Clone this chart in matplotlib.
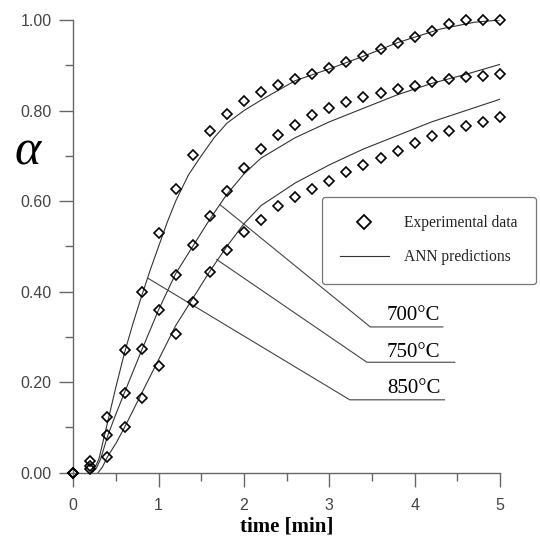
import numpy as np
import matplotlib
matplotlib.use("Agg")
import matplotlib.pyplot as plt
from matplotlib.ticker import MultipleLocator, FormatStrFormatter

# measured points, every 0.2 min
t_exp = [0.0, 0.2, 0.4, 0.6, 0.8, 1.0, 1.2, 1.4, 1.6, 1.8, 2.0, 2.2, 2.4,
         2.6, 2.8, 3.0, 3.2, 3.4, 3.6, 3.8, 4.0, 4.2, 4.4, 4.6, 4.8, 5.0]
exp_850 = [0.0, 0.025, 0.123, 0.27, 0.40, 0.53, 0.626, 0.701, 0.754, 0.792,
           0.822, 0.840, 0.856, 0.870, 0.881, 0.894, 0.908, 0.921, 0.936,
           0.950, 0.963, 0.975, 0.991, 1.0, 1.0, 1.0]
exp_700 = [0.0, 0.015, 0.083, 0.177, 0.273, 0.359, 0.436, 0.504, 0.566, 0.622,
           0.672, 0.714, 0.746, 0.769, 0.790, 0.806, 0.818, 0.829, 0.838,
           0.848, 0.854, 0.862, 0.870, 0.873, 0.877, 0.881]
exp_750 = [0.0, 0.008, 0.035, 0.10, 0.165, 0.236, 0.306, 0.377, 0.443, 0.493,
           0.532, 0.559, 0.59, 0.608, 0.627, 0.644, 0.664, 0.680, 0.695,
           0.711, 0.728, 0.743, 0.755, 0.766, 0.775, 0.785]

# ANN curves
t_ann_850 = [0.2, 0.25, 0.3, 0.4, 0.5, 0.6, 0.7, 0.8, 0.9, 1.0, 1.1, 1.2, 1.35,
             1.5, 1.65, 1.8, 2.0, 2.2, 2.6, 3.0, 3.4, 3.8, 4.3, 4.7, 5.0]
ann_850 = [0.0, 0.01, 0.03, 0.11, 0.19, 0.265, 0.33, 0.39, 0.447, 0.50, 0.553,
           0.60, 0.658, 0.70, 0.74, 0.772, 0.80, 0.823, 0.866, 0.892, 0.92,
           0.95, 0.98, 0.995, 1.0]
t_ann_700 = [0.22, 0.27, 0.32, 0.4, 0.5, 0.6, 0.8, 1.0, 1.2, 1.4, 1.6, 1.8,
             2.0, 2.2, 2.6, 3.0, 3.4, 3.8, 4.2, 4.6, 5.0]
ann_700 = [0.0, 0.01, 0.03, 0.08, 0.13, 0.177, 0.27, 0.36, 0.44, 0.50, 0.56,
           0.615, 0.66, 0.695, 0.74, 0.775, 0.805, 0.835, 0.86, 0.88, 0.902]
t_ann_750 = [0.29, 0.34, 0.4, 0.5, 0.6, 0.8, 1.0, 1.2, 1.4, 1.6, 1.8, 2.0,
             2.2, 2.4, 2.6, 3.0, 3.4, 3.8, 4.2, 4.6, 5.0]
ann_750 = [0.0, 0.012, 0.035, 0.065, 0.10, 0.175, 0.25, 0.325, 0.385, 0.445,
           0.50, 0.55, 0.59, 0.615, 0.64, 0.68, 0.715, 0.745, 0.775, 0.80, 0.825]

# leader lines: start on curve, elbow, end of underline
labels = ["700°C", "750°C", "850°C"]
lead_x = [[1.72, 3.48, 4.33], [1.68, 3.44, 4.47], [0.88, 3.24, 4.35]]
lead_y = [[0.592, 0.322, 0.322], [0.471, 0.244, 0.244], [0.429, 0.161, 0.161]]
lab_y = [0.337, 0.255, 0.176]

fig = plt.figure(figsize=(5.4, 5.39), dpi=100)
ax = fig.add_axes([73.3 / 540, 66.3 / 539, 426.7 / 540, 452.7 / 539])

line_col = "#333333"
ax.plot(t_ann_850, ann_850, color=line_col, lw=0.8)
ax.plot(t_ann_700, ann_700, color=line_col, lw=0.8)
ax.plot(t_ann_750, ann_750, color=line_col, lw=0.8)

for ys in (exp_850, exp_700, exp_750):
    ax.plot(t_exp, ys, ls="none", marker="D", ms=5.3, mfc="none", mec="black",
            mew=1.2, clip_on=False, zorder=3)

for lx, ly, txt, ty in zip(lead_x, lead_y, labels, lab_y):
    ax.plot(lx, ly, color="#444444", lw=0.8)
    ax.text(4.30, ty, txt, ha="right", va="baseline", fontsize=15,
            family="Liberation Serif", color="black")

# legend
h_exp, = ax.plot([], [], ls="none", marker="D", ms=7.5, mfc="none",
                 mec="black", mew=1.3)
h_ann, = ax.plot([], [], color=line_col, lw=0.8)
leg = ax.legend([h_exp, h_ann], ["Experimental data", "ANN predictions"],
                loc="upper left", bbox_to_anchor=(321.7 / 540, 1 - 196.7 / 539),
                bbox_transform=fig.transFigure, frameon=True, fancybox=True,
                borderpad=1.2, labelspacing=1.15, handlelength=3.1,
                handletextpad=1.0, borderaxespad=0,
                prop={"family": "Liberation Serif", "size": 11.2})
leg.get_frame().set_edgecolor("#555555")
leg.get_frame().set_linewidth(0.9)
for t in leg.get_texts():
    t.set_color("#222222")

ax.set_xlim(0, 5)
ax.set_ylim(0, 1)
ax.xaxis.set_major_locator(MultipleLocator(1))
ax.xaxis.set_minor_locator(MultipleLocator(0.5))
ax.yaxis.set_major_locator(MultipleLocator(0.2))
ax.yaxis.set_minor_locator(MultipleLocator(0.1))
ax.yaxis.set_major_formatter(FormatStrFormatter("%.2f"))

for s in ("top", "right"):
    ax.spines[s].set_visible(False)
for s in ("left", "bottom"):
    ax.spines[s].set_color("#666666")
    ax.spines[s].set_linewidth(1.0)

ax.tick_params(which="major", direction="out", length=10, width=1.0,
               color="#666666", labelcolor="#444444", labelsize=11.5)
ax.tick_params(which="minor", direction="out", length=5.5, width=1.0,
               color="#666666")
ax.tick_params(axis="y", which="major", pad=5.5)
ax.tick_params(axis="x", which="major", pad=8)
for lab in ax.get_xticklabels() + ax.get_yticklabels():
    lab.set_family("Liberation Sans")

ax.set_xlabel("time [min]", family="Liberation Serif", fontsize=15,
              fontweight="bold", labelpad=3)
ax.text(-0.108, 0.708, "α", transform=ax.transAxes, ha="center", va="center",
        fontsize=36, family="Liberation Serif", style="italic")

fig.savefig("out.png", dpi=100)
